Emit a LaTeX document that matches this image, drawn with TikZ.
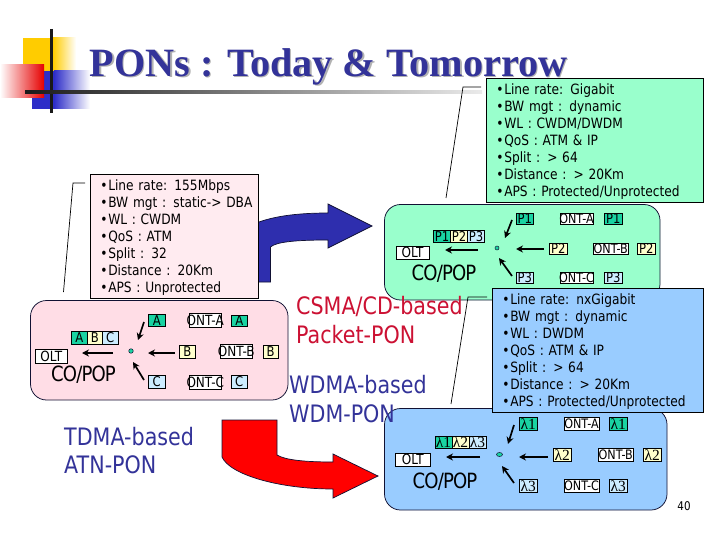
\documentclass[tikz,border=0pt]{standalone}
\usepackage{fontspec}
\usetikzlibrary{arrows.meta,shapes.geometric}
\setmainfont[FakeStretch=0.86]{DejaVu Sans}
\newfontfamily\titlefont{Liberation Serif}
\newfontfamily\lamfont{Liberation Serif}
\definecolor{titleblue}{HTML}{333399}
\definecolor{lgreen}{HTML}{99FFCC}
\definecolor{lblue}{HTML}{99CCFF}
\definecolor{pinkpanel}{HTML}{FFDDE6}
\definecolor{pinkbox}{HTML}{FFEBF0}
\definecolor{tagA}{HTML}{19D3A2}
\definecolor{tagB}{HTML}{FFFFCC}
\definecolor{tagC}{HTML}{CCECFF}
\definecolor{wordred}{HTML}{CC1133}
\definecolor{edge}{HTML}{111133}
\definecolor{logoblue}{HTML}{2E2EC8}
\definecolor{arrowblue}{HTML}{2E2EAE}
\definecolor{logoyellow}{HTML}{FFCC00}
\newcommand{\rect}[7][]{\node[#1,minimum width={(#4-#2)*1pt},minimum height={(#5-#3)*1pt}] (#6) at ({(#2+#4)/2},{(#3+#5)/2}) {#7};}
\newcommand{\bl}{\makebox[8.5pt][l]{\hspace{0.5pt}\textbullet}}
\newcommand{\lam}[1]{{\lamfont λ#1}}
\newcommand{\firstline}{\rule{0pt}{13.5pt}}
\tikzset{
  base/.style={draw=black,line width=0.75pt,inner sep=0pt,outer sep=0pt},
  panel/.style={base,draw=edge,rounded corners=16pt},
  infobox/.style={base,anchor=center,align=left,inner xsep=9pt,font=\fontsize{14.2}{16.85}\selectfont},
  tagbox/.style={base,font=\fontsize{13.5}{14}\selectfont},
  lamtag/.style={base,font=\fontsize{15.5}{14}\selectfont},
  ontbox/.style={base,fill=white,font=\fontsize{14}{14}\selectfont},
  ontsmall/.style={base,fill=white,font=\fontsize{13}{14}\selectfont},
  coplabel/.style={font=\fontsize{21}{24}\selectfont\addfontfeature{LetterSpace=-4},inner sep=0pt},
  bigword/.style={font=\fontsize{24}{29}\selectfont,inner sep=0pt,anchor=west},
  flow/.style={draw=black,line width=1.7pt,-{Stealth[length=7pt,width=7pt]}},
  leader/.style={draw=black,line width=0.7pt},
  dotnode/.style={circle,draw=edge,line width=0.5pt,fill=tagA,inner sep=0pt,minimum size=4.5pt},
  bigarrow/.style={draw=edge,line width=0.7pt}
}
\begin{document}
\begin{tikzpicture}[x=1pt,y=-1pt]
\useasboundingbox (0,0) rectangle (720,540);
\fill[white] (0,0) rectangle (720,540);
% logo
\fill[logoyellow] (23,38) rectangle (53,72);
\shade[left color=logoyellow,right color=white] (53,38) rectangle (76,72);
\fill[logoblue] (32,71) rectangle (54,109);
\shade[left color=logoblue,right color=white] (54,71) rectangle (90,109);
\shade[left color=white,right color=red!90!black] (0,65) rectangle (44,98);
\draw[line width=2.4pt,black!90] (51.5,29) -- (51.5,113);
\shade[left color=black!90,right color=black!8] (25,91) rectangle (482,94);
% title
\node[inner sep=0pt,anchor=base west,text=black!30,font=\titlefont\bfseries\fontsize{40.2}{44}\selectfont] (titleshadow) at (91,78) {PONs : Today \& Tomorrow};
\node[inner sep=0pt,anchor=base west,text=titleblue,font=\titlefont\bfseries\fontsize{40.2}{44}\selectfont] (title) at (89.5,76.5) {PONs : Today \& Tomorrow};
% big arrows
\draw[bigarrow,fill=arrowblue] (240,282) -- (270.5,282) -- (270.5,247) .. controls (276,242) and (295,240) .. (328,240) -- (328,248) -- (372,226) -- (328,204) -- (328,213) .. controls (290,213) and (258,218) .. (240,232) -- cycle;
\draw[bigarrow,fill=red] (222,420) -- (277,420) -- (277,455) .. controls (285,460) and (305,462) .. (333,462) -- (333,454) -- (378,476) -- (333,498) -- (333,489) .. controls (280,489) and (230,475) .. (222,457) -- cycle;
% panels
\rect[panel,fill=pinkpanel]{30.5}{300.5}{288}{400}{pinkpanel}{}
\rect[panel,fill=lgreen]{384.5}{204.5}{660}{300}{greenpanel}{}
\rect[panel,fill=lblue]{384.5}{408.5}{667}{510}{bluepanel}{}
% leaders
\coordinate (la) at (85,183); \coordinate (lb) at (73,183); \coordinate (lc) at (63.5,292);
\draw[leader] (la) -- (lb) -- (lc);
\coordinate (ma) at (481,87); \coordinate (mb) at (463,87); \coordinate (mc) at (446,198);
\draw[leader] (ma) -- (mb) -- (mc);
\coordinate (na) at (487,297); \coordinate (nb) at (468,297); \coordinate (nc) at (451,404);
\draw[leader] (na) -- (nb) -- (nc);
% pink panel contents
\rect[tagbox,fill=tagA]{148.5}{314.5}{165}{326.5}{pa}{A}
\rect[ontbox]{189.5}{313.5}{221}{327}{pontA}{\makebox[0pt]{ONT-A}}
\rect[tagbox,fill=tagA]{231.5}{315}{247}{326.5}{paa}{A}
\rect[tagbox,fill=tagA]{71.5}{331.5}{87}{344}{pA}{A}
\rect[tagbox,fill=tagB]{87}{331.5}{102.5}{344}{pB}{B}
\rect[tagbox,fill=tagC]{102.5}{331.5}{118}{344}{pC}{C}
\rect[ontbox]{35.5}{349}{67}{363}{pOLT}{OLT}
\node[coplabel] (pco) at (83.5,375) {CO/POP};
\rect[tagbox,fill=tagB]{179.5}{345}{195}{358}{pb}{B}
\rect[ontbox]{220.5}{344.5}{252}{358}{pontB}{\makebox[0pt]{ONT-B}}
\rect[tagbox,fill=tagB]{263}{345}{278}{358}{pbb}{B}
\rect[tagbox,fill=tagC]{148.5}{375.5}{165}{388}{pc}{C}
\rect[ontbox]{189.5}{375.5}{221}{389}{pontC}{\makebox[0pt]{ONT-C}}
\rect[tagbox,fill=tagC]{231.5}{375.5}{247}{388}{pcc}{C}
\node[dotnode] (pdot) at (131,351) {};
\coordinate (p1) at (113,353); \coordinate (p2) at (82,353); \draw[flow] (p1) -- (p2);
\coordinate (p3) at (175,353); \coordinate (p4) at (148,353); \draw[flow] (p3) -- (p4);
\coordinate (p5) at (144,322); \coordinate (p6) at (138,340); \draw[flow] (p5) -- (p6);
\coordinate (p7) at (144,380); \coordinate (p8) at (133,362); \draw[flow] (p7) -- (p8);
% green panel contents
\rect[tagbox,fill=tagA]{516}{213}{533.5}{224.5}{ga}{P1}
\rect[ontsmall]{560}{213}{593}{224.5}{gontA}{\makebox[0pt]{ONT-A}}
\rect[tagbox,fill=tagA]{604.5}{213}{622}{224.5}{gaa}{P1}
\rect[tagbox,fill=tagB]{549.5}{243}{567}{254.5}{gb}{P2}
\rect[ontsmall]{593.5}{243}{628}{254.5}{gontB}{\makebox[0pt]{ONT-B}}
\rect[tagbox,fill=tagB]{637.5}{243}{655}{254.5}{gbb}{P2}
\rect[tagbox,fill=tagC]{516}{272}{533.5}{283.5}{gc}{P3}
\rect[ontsmall]{560}{272}{593}{283.5}{gontC}{\makebox[0pt]{ONT-C}}
\rect[tagbox,fill=tagC]{604.5}{272}{622}{283.5}{gcc}{P3}
\rect[tagbox,fill=tagA]{433.5}{230.5}{450.5}{242}{gA}{P1}
\rect[tagbox,fill=tagB]{450.5}{230.5}{467.5}{242}{gB}{P2}
\rect[tagbox,fill=tagC]{467.5}{230.5}{484.5}{242}{gC}{P3}
\rect[ontbox]{396}{246}{429}{259}{gOLT}{OLT}
\node[coplabel] (gco) at (444,274) {CO/POP};
\node[dotnode,minimum size=4pt] (gdot) at (497,248) {};
\coordinate (g1) at (478,250); \coordinate (g2) at (445,250); \draw[flow] (g1) -- (g2);
\coordinate (g3) at (544,249); \coordinate (g4) at (516,249); \draw[flow] (g3) -- (g4);
\coordinate (g5) at (512,220); \coordinate (g6) at (505,238); \draw[flow] (g5) -- (g6);
\coordinate (g7) at (512,276); \coordinate (g8) at (499,258); \draw[flow] (g7) -- (g8);
% blue panel contents
\rect[lamtag,fill=tagA]{519.5}{417.5}{537}{430}{ba}{\lam{1}}
\rect[ontsmall]{564}{417}{599}{430}{bontA}{\makebox[0pt]{ONT-A}}
\rect[lamtag,fill=tagA]{609.5}{417.5}{627}{430}{baa}{\lam{1}}
\rect[lamtag,fill=tagB]{553.5}{448.5}{571}{461.5}{bb}{\lam{2}}
\rect[ontsmall]{598.5}{448.5}{633}{461.5}{bontB}{\makebox[0pt]{ONT-B}}
\rect[lamtag,fill=tagB]{643.5}{448.5}{661}{461.5}{bbb}{\lam{2}}
\rect[lamtag,fill=tagC]{519.5}{479.5}{537}{492.5}{bc}{\lam{3}}
\rect[ontsmall]{564}{479.5}{599}{492.5}{bontC}{\makebox[0pt]{ONT-C}}
\rect[lamtag,fill=tagC]{609.5}{479.5}{627}{492.5}{bcc}{\lam{3}}
\rect[lamtag,fill=tagA]{435}{436}{452}{448}{bA}{\lam{1}}
\rect[lamtag,fill=tagB]{452}{436}{469}{448}{bB}{\lam{2}}
\rect[lamtag,fill=tagC]{469}{436}{486}{448}{bC}{\lam{3}}
\rect[ontbox]{395.5}{453.5}{430}{466}{bOLT}{OLT}
\node[coplabel] (bco) at (445,482) {CO/POP};
\node[draw=edge,line width=0.5pt,fill=tagA,ellipse,inner sep=0pt,minimum width=6pt,minimum height=4pt] (bdot) at (499.5,454.5) {};
\coordinate (b1) at (480,457); \coordinate (b2) at (446,457); \draw[flow] (b1) -- (b2);
\coordinate (b3) at (548,457); \coordinate (b4) at (519,457); \draw[flow] (b3) -- (b4);
\coordinate (b5) at (514,425); \coordinate (b6) at (508,444); \draw[flow] (b5) -- (b6);
\coordinate (b7) at (514,483); \coordinate (b8) at (502,466); \draw[flow] (b7) -- (b8);
% info boxes
\rect[infobox,fill=pinkbox,text width=149pt]{90.5}{174.5}{258}{298}{pinfo}{\firstline\bl Line rate: 155Mbps\\\bl\makebox[0pt][l]{BW mgt : static-> DBA}\\\bl WL : CWDM\\\bl QoS : ATM\\\bl Split : 32\\\bl Distance : 20Km\\\bl APS : Unprotected}
\rect[infobox,fill=lgreen,text width=198pt]{486.5}{78.5}{703}{202}{ginfo}{\firstline\bl Line rate: Gigabit\\\bl BW mgt : dynamic\\\bl WL : CWDM/DWDM\\\bl QoS : ATM \& IP\\\bl Split : > 64\\\bl Distance : > 20Km\\\bl APS : Protected/Unprotected}
\rect[infobox,fill=lblue,text width=192pt]{492.5}{288.5}{703}{412}{binfo}{\firstline\bl Line rate: nxGigabit\\\bl BW mgt : dynamic\\\bl WL : DWDM\\\bl QoS : ATM \& IP\\\bl Split : > 64\\\bl Distance : > 20Km\\\bl APS : Protected/Unprotected}
% big labels
\node[bigword,text=titleblue] (tdma) at (64,437) {TDMA-based};
\node[bigword,text=titleblue] (atn) at (64,465) {ATN-PON};
\node[bigword,text=wordred] (csma) at (296,306) {CSMA/CD-based};
\node[bigword,text=wordred] (pkt) at (296,335) {Packet-PON};
\node[bigword,text=titleblue] (wdma) at (289,385) {WDMA-based};
\node[bigword,text=titleblue] (wdm) at (289,414) {WDM-PON};
\node[inner sep=0pt,font=\fontsize{12}{14}\selectfont] (pageno) at (684,506) {40};
\end{tikzpicture}
\end{document}
